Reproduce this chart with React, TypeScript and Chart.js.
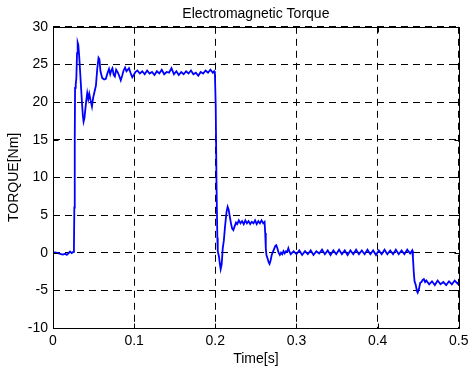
import React, { useEffect, useRef } from "react";
import { Chart, registerables } from "chart.js";

Chart.register(...registerables);

// ---- data (time [s], torque [Nm]) ----
const STARTUP: [number, number][] = [
  [0, 0], [0.003, 0.05], [0.006, -0.05], [0.009, -0.15], [0.012, -0.25], [0.015, -0.15],
  [0.017, -0.3], [0.019, -0.1], [0.021, 0.15], [0.023, -0.05], [0.025, 0.1], [0.0258, 0.6],
  [0.0263, 6], [0.0268, 15], [0.0272, 21.9], [0.028, 22.3], [0.0288, 23.2], [0.0296, 26.5],
  [0.0304, 27.9], [0.0312, 27.6], [0.0324, 25.9], [0.034, 23], [0.0357, 19.9], [0.0368, 18.2],
  [0.0377, 17.4], [0.0388, 17.9], [0.0398, 19], [0.041, 20.2], [0.0422, 21.2], [0.0435, 20.4],
  [0.0447, 21.1], [0.0462, 20.3], [0.048, 19.4], [0.0495, 20.6], [0.0508, 21.2], [0.0529, 22.2],
  [0.0545, 24.4], [0.0561, 25.9], [0.0572, 25.7], [0.0585, 24.1], [0.0606, 23.2], [0.063, 23.0],
  [0.0651, 23.1], [0.067, 23.8], [0.069, 24.4], [0.0705, 23.7], [0.0718, 24.2], [0.0732, 24.5],
  [0.0748, 23.6], [0.0762, 23.4], [0.0778, 24.3], [0.0795, 24.0], [0.0812, 23.6], [0.0835, 22.9],
  [0.0852, 23.5], [0.087, 24.2], [0.0888, 24.6], [0.0905, 24.1], [0.0922, 24.3], [0.0936, 24.5],
  [0.0955, 23.9], [0.0977, 23.3], [0.0995, 23.6], [0.1015, 24.0],
];

const LOAD_24: [number, number][] = [
  [0.104, 24.2], [0.107, 23.8], [0.11, 24.1], [0.113, 23.7], [0.116, 24.2], [0.119, 23.8],
  [0.122, 24.0], [0.125, 23.6], [0.128, 24.1], [0.131, 23.8], [0.134, 24.3], [0.137, 23.7],
  [0.14, 24.0], [0.143, 23.9], [0.146, 24.5], [0.149, 23.7], [0.152, 24.1], [0.155, 23.6],
  [0.158, 24.0], [0.161, 23.7], [0.164, 24.1], [0.167, 23.8], [0.17, 24.2], [0.173, 23.7],
  [0.176, 23.9], [0.179, 23.5], [0.182, 24.0], [0.185, 23.8], [0.188, 24.2], [0.191, 23.9],
  [0.194, 24.3], [0.197, 23.9], [0.1985, 24.1], [0.1995, 23.8],
];

const STEP_4: [number, number][] = [
  [0.2005, 19.5], [0.2015, 9], [0.2025, 2], [0.203, 0.2], [0.2045, -0.5], [0.2055, -1.4],
  [0.2066, -2.2], [0.2078, -1.6], [0.2092, 0.6], [0.2105, 1.6], [0.212, 3.5], [0.2138, 5.4],
  [0.2152, 6.1], [0.2165, 5.7], [0.218, 4.7], [0.2195, 3.8], [0.2208, 3.2], [0.2222, 3.0],
  [0.2238, 3.5], [0.2255, 4.0], [0.227, 3.8], [0.229, 4.3], [0.231, 3.9], [0.233, 4.2],
  [0.235, 3.8], [0.237, 4.3], [0.239, 3.9], [0.241, 4.2], [0.243, 3.8], [0.245, 4.1],
  [0.247, 3.9], [0.249, 4.3], [0.251, 3.8], [0.253, 4.2], [0.255, 3.9], [0.257, 4.3],
  [0.259, 3.9], [0.2607, 4.1],
];

const STEP_0: [number, number][] = [
  [0.2615, 2.6], [0.2622, 0.6], [0.263, -0.3], [0.2645, -0.8], [0.2658, -1.3], [0.2668, -1.5],
  [0.268, -1.1], [0.2695, -0.3], [0.271, 0.1], [0.2725, 0.5], [0.274, 0.9], [0.2752, 1.0],
  [0.2765, 0.6], [0.278, 0.0], [0.2795, -0.3], [0.281, 0.0], [0.2825, -0.2], [0.284, 0.2],
  [0.2855, -0.1], [0.287, 0.2], [0.2885, 0.1], [0.29, 0.6], [0.2915, 0.1], [0.293, -0.2],
  [0.2965, 0.2], [0.3, -0.2], [0.3035, 0.3], [0.307, -0.3], [0.3105, 0.2], [0.314, -0.2],
  [0.3175, 0.3], [0.321, -0.3], [0.3245, 0.2], [0.328, -0.1], [0.3315, 0.4], [0.335, -0.2],
  [0.3385, 0.3], [0.342, -0.3], [0.3455, 0.3], [0.349, -0.2], [0.3525, 0.4], [0.356, -0.2],
  [0.3595, 0.3], [0.363, -0.3], [0.3665, 0.3], [0.37, -0.2], [0.3735, 0.4], [0.377, -0.2],
  [0.3805, 0.3], [0.384, -0.2], [0.3875, 0.4], [0.391, -0.2], [0.3945, 0.3], [0.398, -0.3],
  [0.4015, 0.3], [0.405, -0.2], [0.4085, 0.4], [0.412, -0.2], [0.4155, 0.3], [0.419, -0.2],
  [0.4225, 0.4], [0.426, -0.2], [0.4295, 0.3], [0.433, -0.2], [0.4365, 0.4], [0.44, -0.1],
  [0.4425, 0.3],
];

const STEP_NEG4: [number, number][] = [
  [0.4435, -0.6], [0.4445, -2.5], [0.4455, -3.8], [0.447, -4.3], [0.4485, -5.1], [0.4494, -5.3],
  [0.451, -4.8], [0.4525, -4.0], [0.454, -3.9], [0.4555, -3.6], [0.457, -3.5], [0.4585, -3.9],
  [0.46, -3.7], [0.4635, -4.2], [0.467, -3.8], [0.4705, -4.3], [0.474, -3.7], [0.4775, -4.2],
  [0.481, -3.9], [0.4845, -4.3], [0.488, -3.8], [0.4915, -4.2], [0.495, -3.7], [0.4985, -4.1],
  [0.5, -3.9],
];

const X_TICKS = [0, 0.1, 0.2, 0.3, 0.4, 0.5];
const X_TICK_LABELS = ["0", "0.1", "0.2", "0.3", "0.4", "0.5"];
const Y_TICKS = [-10, -5, 0, 5, 10, 15, 20, 25, 30];
const Y_TICK_LABELS = ["-10", "-5", "0", "5", "10", "15", "20", "25", "30"];

const TITLE = "Electromagnetic Torque";
const X_TITLE = "Time[s]";
const Y_TITLE = "TORQUE[Nm]";

const FONT = "'Liberation Sans', Arial, Helvetica, sans-serif";

const framePlugin = {
  id: "matlabFrame",
  afterDraw(chart: any) {
    const { ctx, chartArea } = chart;
    const { left, right, top, bottom } = chartArea;
    const xs = chart.scales.x;
    const ys = chart.scales.y;
    const a = (v: number) => Math.round(v) + 0.5;
    ctx.save();
    ctx.setLineDash([]);
    ctx.strokeStyle = "#000";
    ctx.lineWidth = 1;
    const L = a(left), R = a(right), T = a(top), B = a(bottom);
    ctx.beginPath();
    ctx.rect(L, T, R - L, B - T);
    ctx.stroke();
    const tl = 5;
    ctx.beginPath();
    X_TICKS.forEach((v) => {
      const px = a(xs.getPixelForValue(v));
      ctx.moveTo(px, B);
      ctx.lineTo(px, B - tl);
      ctx.moveTo(px, T);
      ctx.lineTo(px, T + tl);
    });
    Y_TICKS.forEach((v) => {
      const py = a(ys.getPixelForValue(v));
      ctx.moveTo(L, py);
      ctx.lineTo(L + tl, py);
      ctx.moveTo(R, py);
      ctx.lineTo(R - tl, py);
    });
    ctx.stroke();
    ctx.restore();
  },
};

export default function App() {
  const ref = useRef<HTMLCanvasElement | null>(null);

  useEffect(() => {
    if (!ref.current) return;
    const points = [...STARTUP, ...LOAD_24, ...STEP_4, ...STEP_0, ...STEP_NEG4].map(
      ([x, y]) => ({ x, y })
    );
    const chart = new Chart(ref.current, {
      type: "line",
      data: {
        datasets: [
          {
            data: points,
            borderColor: "#0000ff",
            borderWidth: 1.8,
            pointRadius: 0,
            tension: 0,
            fill: false,
          },
        ],
      },
      options: {
        animation: false,
        responsive: false,
        devicePixelRatio: 1,
        layout: { padding: { left: 0, right: 11, top: 0, bottom: 0 } },
        plugins: {
          legend: { display: false },
          tooltip: { enabled: false },
          title: {
            display: true,
            text: TITLE,
            fullSize: false,
            color: "#000",
            font: { family: FONT, size: 14, weight: "normal" },
            padding: { top: 5.5, bottom: 4.5 },
          },
        },
        scales: {
          x: {
            type: "linear",
            min: 0,
            max: 0.5,
            afterBuildTicks: (s: any) => {
              s.ticks = X_TICKS.map((v) => ({ value: v }));
            },
            afterFit: (s: any) => {
              s.height = 40;
            },
            ticks: {
              color: "#000",
              font: { family: FONT, size: 14 },
              padding: 4.5,
              maxRotation: 0,
              autoSkip: false,
              callback: (v: any) => X_TICK_LABELS[X_TICKS.indexOf(Number(v))] ?? "",
            },
            grid: {
              color: "#000",
              lineWidth: 1,
              drawTicks: false,
              borderDash: [7, 5],
            } as any,
            border: { display: false, dash: [7, 5] },
            title: {
              display: true,
              text: X_TITLE,
              color: "#000",
              font: { family: FONT, size: 14 },
              padding: { top: 0, bottom: 0 },
            },
          },
          y: {
            type: "linear",
            min: -10,
            max: 30,
            afterBuildTicks: (s: any) => {
              s.ticks = Y_TICKS.map((v) => ({ value: v }));
            },
            afterFit: (s: any) => {
              s.width = 53;
            },
            ticks: {
              color: "#000",
              font: { family: FONT, size: 14 },
              padding: 5,
              autoSkip: false,
              callback: (v: any) => Y_TICK_LABELS[Y_TICKS.indexOf(Number(v))] ?? "",
            },
            grid: {
              color: "#000",
              lineWidth: 1,
              drawTicks: false,
              borderDash: [7, 5],
            } as any,
            border: { display: false, dash: [7, 5] },
            title: {
              display: true,
              text: Y_TITLE,
              color: "#000",
              font: { family: FONT, size: 14 },
              padding: { top: 6, bottom: 0 },
            },
          },
        },
      },
      plugins: [framePlugin],
    } as any);
    return () => chart.destroy();
  }, []);

  return (
    <div style={{ position: "fixed", left: 0, top: 0, width: 473, height: 368, background: "#fff" }}>
      <canvas ref={ref} width={473} height={368} style={{ display: "block" }} />
    </div>
  );
}
